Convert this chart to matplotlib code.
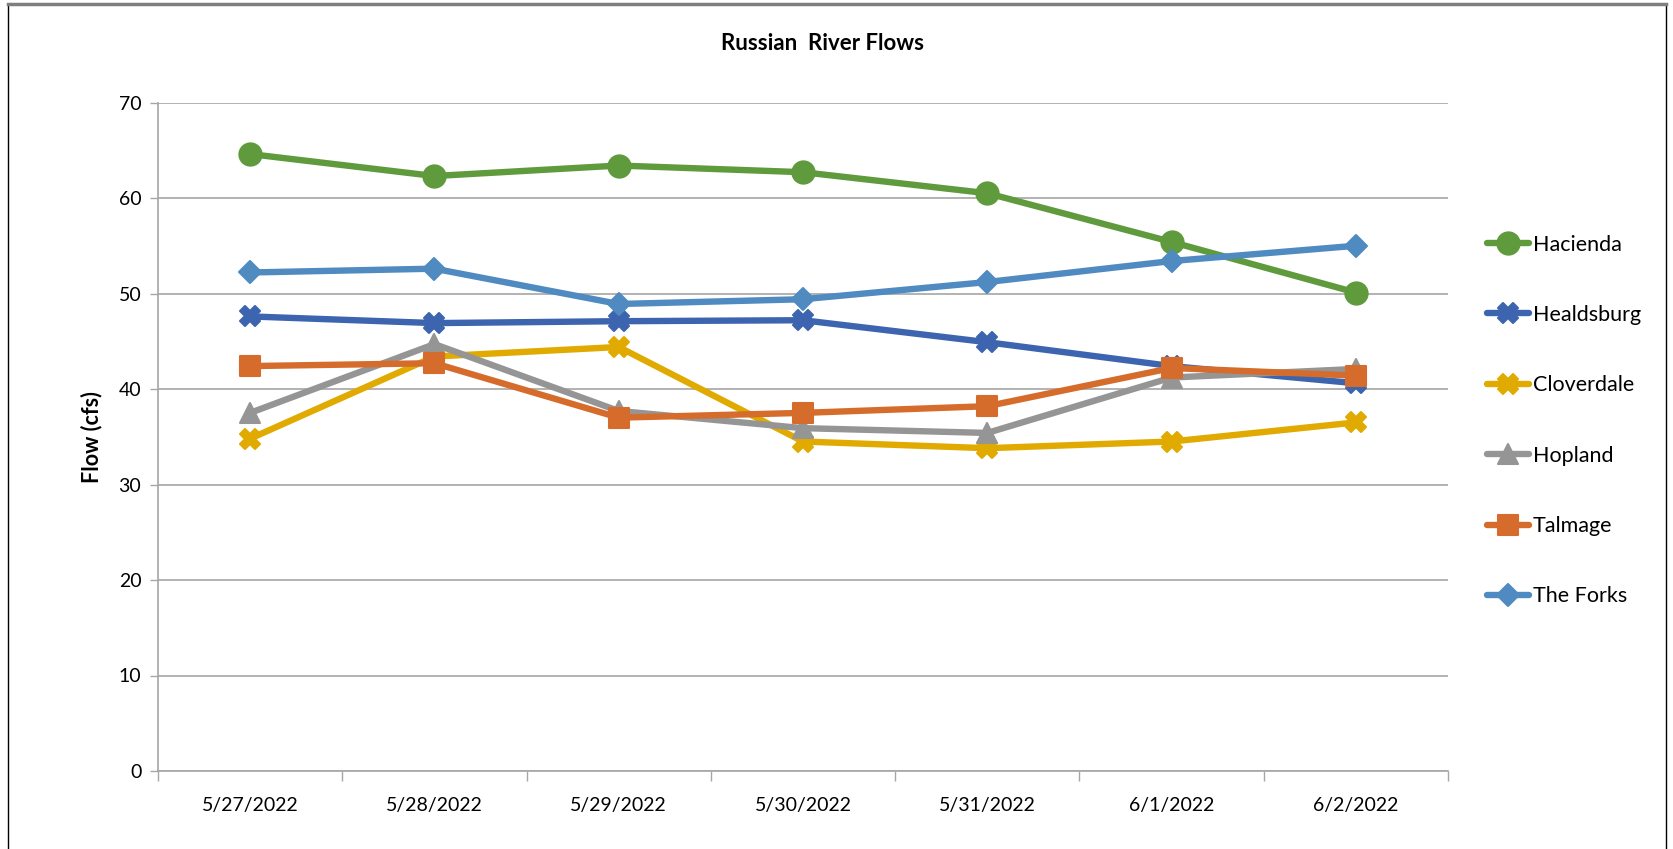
import matplotlib
matplotlib.use("Agg")
import matplotlib.pyplot as plt
from matplotlib.patches import Rectangle
from matplotlib.markers import MarkerStyle

plt.rcParams['font.family'] = ['Lato', 'DejaVu Sans']

dates = ["5/27/2022", "5/28/2022", "5/29/2022", "5/30/2022", "5/31/2022", "6/1/2022", "6/2/2022"]
hacienda = [64.6, 62.3, 63.4, 62.7, 60.5, 55.4, 50.1]
healdsburg = [47.6, 46.9, 47.1, 47.2, 44.9, 42.4, 40.6]
cloverdale = [34.8, 43.4, 44.4, 34.5, 33.8, 34.5, 36.5]
hopland = [37.5, 44.7, 37.7, 35.9, 35.4, 41.2, 42.1]
talmage = [42.4, 42.7, 37.0, 37.5, 38.2, 42.2, 41.4]
the_forks = [52.2, 52.6, 48.9, 49.4, 51.2, 53.4, 55.0]
y_ticks = [0, 10, 20, 30, 40, 50, 60, 70]

series = [
    ("Hacienda", hacienda, "#5F9A3C", "o", 16.0),
    ("Healdsburg", healdsburg, "#3D64AE", "X", 14.5),
    ("Cloverdale", cloverdale, "#E1AA00", "X", 14.0),
    ("Hopland", hopland, "#959595", "^", 14.5),
    ("Talmage", talmage, "#D56C2B", "s", 15.0),
    ("The Forks", the_forks, "#4F8AC0", "D", 11.5),
]

W, H = 1674, 849
fig = plt.figure(figsize=(W / 100, H / 100), dpi=100)
ax = fig.add_axes([158 / W, 1 - 771 / H, (1448 - 158) / W, (771 - 102.5) / H])

x = list(range(len(dates)))
for name, vals, col, mk, ms in series:
    ax.plot(x, vals, color=col, lw=4.6, marker=MarkerStyle(mk, joinstyle='round'),
            markersize=ms, markerfacecolor=col, markeredgecolor=col,
            markeredgewidth=1.5, label=name,
            solid_joinstyle='round', solid_capstyle='round', zorder=3)

ax.set_xlim(-0.5, len(dates) - 0.5)
ax.set_ylim(0, 70)
ax.set_yticks(y_ticks)
ax.set_yticklabels([str(v) for v in y_ticks], fontsize=14)
ax.yaxis.grid(True, color="#A6A6A6", lw=1.2)
ax.set_axisbelow(True)

ax.set_xticks([i - 0.5 for i in range(len(dates) + 1)])
ax.set_xticklabels([])
ax.set_xticks(x, minor=True)
ax.set_xticklabels(dates, minor=True, fontsize=14)
ax.tick_params(axis='x', which='major', length=7, color="#A6A6A6", width=1)
ax.tick_params(axis='x', which='minor', length=0, pad=19)
ax.tick_params(axis='y', length=6, color="#A6A6A6", width=1, pad=6)

for s in ['top', 'right']:
    ax.spines[s].set_visible(False)
ax.spines['left'].set_color("#A6A6A6")
ax.spines['bottom'].set_color("#A6A6A6")
ax.spines['left'].set_linewidth(1.2)
ax.spines['bottom'].set_linewidth(1.2)

ax.set_ylabel("Flow (cfs)", fontsize=15.5, fontweight='bold', labelpad=12)
fig.text(823 / W, 1 - 43 / H, "Russian  River Flows", ha='center', va='center',
         fontsize=16, fontweight='bold')

leg = fig.legend(loc='upper left', bbox_to_anchor=(1478 / W, 1 - 226 / H),
                 frameon=False, fontsize=15.5, labelspacing=2.34,
                 handlelength=1.95, handletextpad=0.2, borderaxespad=0)

fig.patches.append(Rectangle((8 / W, -0.05), (1666 - 8) / W, 1.05 - 4 / H,
                             transform=fig.transFigure, fill=False,
                             edgecolor="#000000", lw=1.0))
fig.lines.append(plt.Line2D([8 / W, 1666 / W], [1 - 4 / H, 1 - 4 / H],
                            transform=fig.transFigure, color="#7F7F7F", lw=2.5))

fig.savefig("out.png", dpi=100)
